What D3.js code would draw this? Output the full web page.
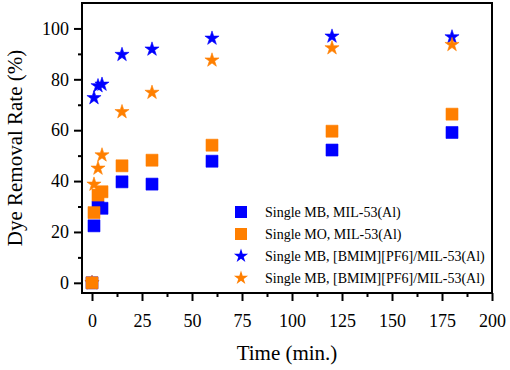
<!DOCTYPE html>
<html>
<head>
<meta charset="utf-8">
<script src="https://cdn.jsdelivr.net/npm/d3@7"></script>
<style>
  body { margin: 0; background: #fff; }
</style>
</head>
<body>
<div id="chart"></div>
<script>
// time points (min.)
const times = [0, 1, 3, 5, 15, 30, 60, 120, 180];

// removal rate (%) per series
const mbMil = [0, 22.4, 29.8, 29.3, 39.7, 38.8, 47.8, 52.2, 59.1];
const moMil = [0, 27.6, 34.5, 35.8, 46.0, 48.2, 54.1, 59.6, 66.3];
const mbIl = [0, 72.7, 77.4, 78.0, 89.7, 91.8, 96.1, 96.9, 96.6];
const moIl = [0, 38.7, 45.0, 50.2, 67.2, 74.8, 87.5, 92.3, 93.6];

const seriesNames = [
  "Single MB, MIL-53(Al)",
  "Single MO, MIL-53(Al)",
  "Single MB, [BMIM][PF6]/MIL-53(Al)",
  "Single MB, [BMIM][PF6]/MIL-53(Al)"
];
const xTicks = [0, 25, 50, 75, 100, 125, 150, 175, 200];
const yTicks = [0, 20, 40, 60, 80, 100];

const serif = "'Liberation Serif', 'Times New Roman', serif";

const series = [
  {name: seriesNames[0], values: mbMil, color: "#0000ff", shape: d3.symbolSquare, size: 144},
  {name: seriesNames[1], values: moMil, color: "#ff7f00", shape: d3.symbolSquare, size: 144},
  {name: seriesNames[2], values: mbIl, color: "#0000ff", shape: d3.symbolStar, size: 62},
  {name: seriesNames[3], values: moIl, color: "#ff7f00", shape: d3.symbolStar, size: 62}
];

const W = 510, H = 370;
const margin = {top: 3, right: 18, bottom: 77, left: 82};
const width = W - margin.left - margin.right,
  height = H - margin.top - margin.bottom;

const svg = d3.select("#chart")
  .append("svg")
    .attr("width", W)
    .attr("height", H)
  .append("g")
    .attr("transform", "translate(" + margin.left + "," + margin.top + ")");

const x = d3.scaleLinear().domain([-5, 200]).range([0, width]);
const y = d3.scaleLinear().domain([-4, 110]).range([height, 0]);

// minor ticks first
svg.append("g")
  .attr("transform", "translate(0," + height + ")")
  .call(d3.axisBottom(x).tickValues(d3.range(12.5, 200, 25)).tickSize(4).tickFormat(""))
  .call(g => g.select(".domain").remove())
  .selectAll("line").attr("stroke-width", 2);

svg.append("g")
  .call(d3.axisLeft(y).tickValues(d3.range(10, 110, 20)).tickSize(4).tickFormat(""))
  .call(g => g.select(".domain").remove())
  .selectAll("line").attr("stroke-width", 2);

// major ticks
const xAxis = svg.append("g")
  .attr("transform", "translate(0," + height + ")")
  .call(d3.axisBottom(x).tickValues(xTicks).tickSize(8).tickPadding(13))
  .call(g => g.select(".domain").remove());
xAxis.selectAll("line").attr("stroke-width", 2);
xAxis.selectAll("text").style("font-size", "18px").style("font-family", serif);

const yAxis = svg.append("g")
  .call(d3.axisLeft(y).tickValues(yTicks).tickSize(8).tickPadding(5))
  .call(g => g.select(".domain").remove());
yAxis.selectAll("line").attr("stroke-width", 2);
yAxis.selectAll("text").style("font-size", "18px").style("font-family", serif);

// frame
svg.append("rect")
  .attr("width", width)
  .attr("height", height)
  .attr("fill", "none")
  .attr("stroke", "#000")
  .attr("stroke-width", 2);

// points: blue series under orange ones
[0, 2, 1, 3].forEach(k => {
  const s = series[k];
  svg.append("g").selectAll("path")
    .data(times.map((t, i) => ({t: t, v: s.values[i]})))
    .enter()
    .append("path")
      .attr("transform", d => "translate(" + x(d.t) + "," + y(d.v) + ")")
      .attr("d", d3.symbol().type(s.shape).size(s.size))
      .attr("fill", s.color)
      .attr("stroke", s.color)
      .attr("stroke-width", 0.6);
});

// legend
const legend = svg.append("g").attr("transform", "translate(159,209)");
series.forEach((s, i) => {
  const row = legend.append("g").attr("transform", "translate(0," + (i * 22) + ")");
  row.append("path")
    .attr("d", d3.symbol().type(s.shape).size(s.size))
    .attr("fill", s.color);
  row.append("text")
    .attr("x", 24)
    .attr("y", 5)
    .style("font-family", serif)
    .style("font-size", "14px")
    .text(s.name);
});

// axis titles
svg.append("text")
  .attr("x", width / 2)
  .attr("y", height + 67)
  .attr("text-anchor", "middle")
  .style("font-family", serif)
  .style("font-size", "21px")
  .text("Time (min.)");

svg.append("text")
  .attr("transform", "rotate(-90)")
  .attr("x", -height / 2)
  .attr("y", -60)
  .attr("text-anchor", "middle")
  .style("font-family", serif)
  .style("font-size", "21px")
  .text("Dye Removal Rate (%)");
</script>
</body>
</html>
